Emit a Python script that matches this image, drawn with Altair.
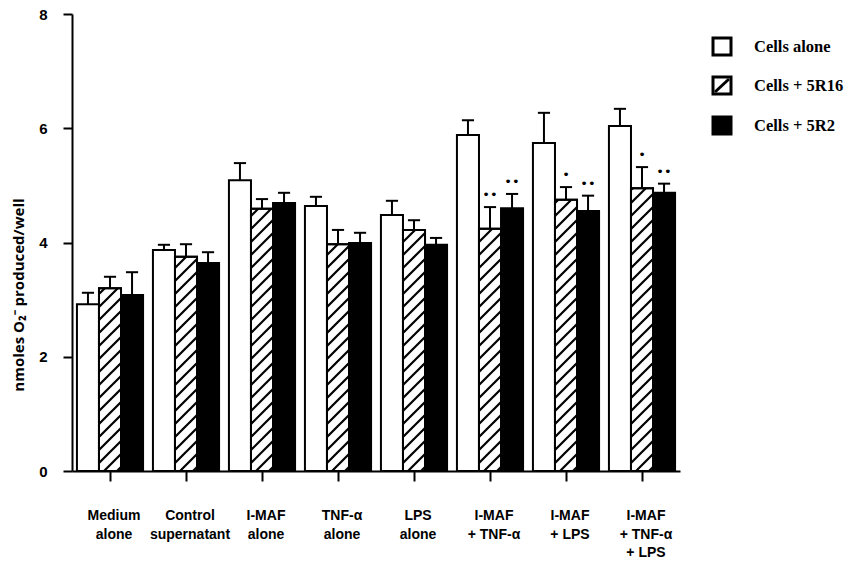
import altair as alt
import pandas as pd
import numpy as np

# ---------------- data ----------------
categories = ["Medium\nalone", "Control\nsupernatant", "I-MAF\nalone", "TNF-α\nalone",
              "LPS\nalone", "I-MAF\n+ TNF-α", "I-MAF\n+ LPS", "I-MAF\n+ TNF-α\n+ LPS"]
series_names = ["Cells alone", "Cells + 5R16", "Cells + 5R2"]

cells_alone = [2.92, 3.87, 5.09, 4.64, 4.48, 5.88, 5.74, 6.04]
cells_alone_err = [0.20, 0.09, 0.30, 0.16, 0.25, 0.26, 0.53, 0.30]
cells_5r16 = [3.20, 3.75, 4.59, 3.97, 4.22, 4.24, 4.75, 4.95]
cells_5r16_err = [0.20, 0.22, 0.17, 0.25, 0.17, 0.38, 0.22, 0.37]
cells_5r2 = [3.08, 3.64, 4.69, 3.99, 3.96, 4.60, 4.55, 4.87]
cells_5r2_err = [0.40, 0.19, 0.18, 0.18, 0.12, 0.25, 0.27, 0.16]
sig_alone = ["", "", "", "", "", "", "", ""]
sig_5r16 = ["", "", "", "", "", "••", "•", "•"]
sig_5r2 = ["", "", "", "", "", "••", "••", "••"]

# ---------------- layout ----------------
W, H = 608, 457
X_DOMAIN = [-0.5, 7.5]
Y_DOMAIN = [0, 8]
BAR_W = 0.29
CAP_HALF = 0.08
KX = W / (X_DOMAIN[1] - X_DOMAIN[0])
KY = H / (Y_DOMAIN[1] - Y_DOMAIN[0])

values = [cells_alone, cells_5r16, cells_5r2]
errors = [cells_alone_err, cells_5r16_err, cells_5r2_err]
sigs = [sig_alone, sig_5r16, sig_5r2]

rows = []
for si, name in enumerate(series_names):
    for ci, cat in enumerate(categories):
        c = ci + (si - 1) * BAR_W
        rows.append(dict(series=name, cat=cat, idx=ci, xc=c, xl=c - BAR_W / 2, xr=c + BAR_W / 2,
                         base=0.0, value=values[si][ci], top=values[si][ci] + errors[si][ci],
                         capl=c - CAP_HALF, capr=c + CAP_HALF, sig=sigs[si][ci]))
df = pd.DataFrame(rows)

# hatch segments (45 degree lines in pixel space) for the 5R16 bars
def hatch_segments(xl, xr, top, spacing=13.0, phase=4.0):
    x0, x1 = xl * KX, xr * KX
    w = x1 - x0
    y1 = top * KY
    segs = []
    c = -w + phase
    while c < y1:
        if c >= 0:
            sx, sy = x0, c
        else:
            sx, sy = x0 - c, 0.0
        if c + w <= y1:
            ex, ey = x1, c + w
        else:
            ex, ey = x0 + (y1 - c), y1
        if ex > sx + 0.5:
            segs.append(dict(hx=sx / KX, hy=sy / KY, hx2=ex / KX, hy2=ey / KY))
        c += spacing
    return segs

hrows = []
for _, r in df[df.series == "Cells + 5R16"].iterrows():
    hrows += hatch_segments(r.xl, r.xr, r.value)
hdf = pd.DataFrame(hrows)

xscale = alt.Scale(domain=X_DOMAIN, nice=False, zero=False)
yscale = alt.Scale(domain=Y_DOMAIN, nice=False)

x_axis = alt.Axis(values=list(range(len(categories))), labels=False, title=None, grid=False,
                  tickSize=10, tickWidth=2, domainWidth=2, domainColor="black", tickColor="black")
y_axis = alt.Axis(values=[0, 2, 4, 6, 8], format="d", title=None, grid=False, tickSize=9, tickWidth=2,
                  domainWidth=2, domainColor="black", tickColor="black", labelFont="Liberation Sans",
                  labelFontWeight="bold", labelFontSize=15, labelColor="black", labelPadding=16)

base = alt.Chart(df)

bars = base.mark_rect(stroke="black", strokeWidth=2).encode(
    x=alt.X("xl:Q", scale=xscale, axis=x_axis),
    x2="xr:Q",
    y=alt.Y("base:Q", scale=yscale, axis=y_axis),
    y2="value:Q",
    fill=alt.Fill("series:N", scale=alt.Scale(domain=series_names, range=["white", "white", "black"]),
                  legend=None),
)

hatch = alt.Chart(hdf).mark_rule(stroke="black", strokeWidth=2.2).encode(
    x="hx:Q", x2="hx2:Q", y="hy:Q", y2="hy2:Q")

outline = alt.Chart(df[df.series == "Cells + 5R16"]).mark_rect(
    fillOpacity=0, stroke="black", strokeWidth=2).encode(x="xl:Q", x2="xr:Q", y="base:Q", y2="value:Q")

whisker = base.mark_rule(stroke="black", strokeWidth=2).encode(x="xc:Q", y="value:Q", y2="top:Q")
cap = base.mark_rule(stroke="black", strokeWidth=2).encode(x="capl:Q", x2="capr:Q", y="top:Q")

stars = base.transform_filter("datum.sig != ''").mark_text(
    font="DejaVu Sans", fontSize=13, dy=-12, baseline="middle", color="black"
).encode(x="xc:Q", y="top:Q", text="sig:N")

labels_df = pd.DataFrame({"idx": list(range(len(categories))), "label": categories})
xlabels = alt.Chart(labels_df).mark_text(
    align="center", baseline="top", lineBreak="\n", dx=4, font="Liberation Sans", fontWeight="bold",
    fontSize=14, lineHeight=18.5, color="black"
).encode(x="idx:Q", y=alt.value(H + 38), text="label:N")

ytitle = alt.Chart(pd.DataFrame({"t": ["nmoles O₂⁻ produced/well"]})).mark_text(
    angle=270, font="Open Sans", fontWeight="bold", fontSize=15, color="black", baseline="middle", align="center"
).encode(x=alt.value(-53), y=alt.value(281), text="t:N")

# legend (hand drawn, as in the figure)
leg_layers = []
LX0, LX1 = 641, 659
LY = [24, 63, 103]
LS = 17
one = pd.DataFrame({"a": [0]})
for i, name in enumerate(series_names):
    fillc = "black" if i == 2 else "white"
    leg_layers.append(alt.Chart(one).mark_rect(fill=fillc, stroke="black", strokeWidth=3).encode(
        x=alt.value(LX0), x2=alt.value(LX1), y=alt.value(LY[i]), y2=alt.value(LY[i] + LS)))
    if i == 1:
        leg_layers.append(alt.Chart(one).mark_rule(stroke="black", strokeWidth=3).encode(
            x=alt.value(LX0 + 2), x2=alt.value(LX1 - 2), y=alt.value(LY[i] + LS - 2), y2=alt.value(LY[i] + 2)))
    leg_layers.append(alt.Chart(pd.DataFrame({"t": [name]})).mark_text(
        align="left", baseline="middle", font="Liberation Serif", fontWeight="bold", fontSize=16.5,
        color="black"
    ).encode(x=alt.value(682), y=alt.value(LY[i] + LS / 2), text="t:N"))

chart = alt.layer(bars, hatch, outline, whisker, cap, stars, xlabels, ytitle, *leg_layers).properties(
    width=W, height=H,
    autosize=alt.AutoSizeParams(type="none"),
    padding={"left": 64, "top": 6, "right": 169, "bottom": 87},
    background="white",
).configure_view(stroke=None)

chart.save("out.html", embed_options={"renderer": "svg", "actions": False})
